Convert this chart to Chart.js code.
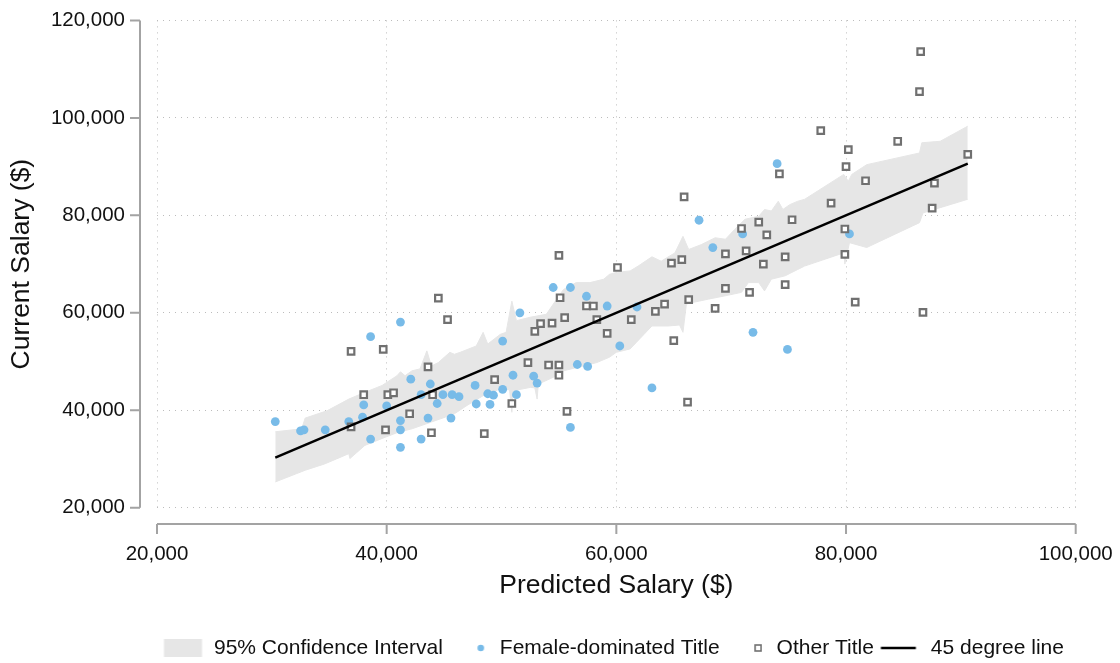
<!DOCTYPE html>
<html><head><meta charset="utf-8">
<script src="https://cdn.jsdelivr.net/npm/chart.js@4.4.1/dist/chart.umd.min.js"></script>
<style>html,body{margin:0;padding:0;background:#fff;} #wrap{width:1120px;height:663px;position:relative;}</style>
</head><body><div id="wrap"><canvas id="c"></canvas></div>
<script>
// ---- data ----
const xTicks = [20000, 40000, 60000, 80000, 100000];
const yTicks = [20000, 40000, 60000, 80000, 100000, 120000];
const legendNames = ['95% Confidence Interval', 'Female-dominated Title', 'Other Title', '45 degree line'];

const femaleX = [30300,32500,32800,34650,36700,37900,38000,38600,38600,40000,41200,41200,41200,41200,42100,43000,43000,43600,43800,44400,44900,45600,45700,46300,47700,47800,48800,49300,49000,50100,50100,51000,51300,51600,52800,53100,54500,56000,56000,56600,57500,57400,59200,60300,61800,63100,67200,68400,71000,71900,74000,74900,80300];
const femaleY = [37700,35800,36000,36000,37700,38600,41100,34100,55100,40900,58100,37900,36000,32400,46400,43200,34100,38400,45400,41400,43200,38400,43200,42800,45100,41300,43400,43100,41200,54200,44300,47200,43200,60000,47000,45600,65200,65200,36500,49400,49000,63400,61400,53200,61200,44600,79000,73400,76200,56000,90600,52500,76200];

const otherX = [36900,39700,44500,45300,43600,49400,38000,40100,40600,44000,42000,36900,39900,43900,48500,55000,60100,64800,65700,69500,55100,57400,58000,55500,53400,52900,54400,58300,59200,61300,63400,64200,66300,68600,69500,65000,52300,54100,55000,55000,50900,55700,66200,65900,74200,77800,80200,80000,81700,78700,75300,72400,70900,73100,79900,71300,74700,72800,79900,74700,71600,80800,86500,86400,84500,90600,87700,87500,86700];
const otherY = [52100,52500,63000,58600,48900,46300,43200,43200,43600,43200,39300,36600,36000,35400,35200,71800,69300,70200,70900,72100,63100,61400,61400,59000,57800,56200,57900,58600,55800,58600,60300,61800,62700,60900,65000,54300,49800,49300,49300,47200,41400,39800,41700,83800,88500,97400,93500,90000,87100,82500,79100,78600,77300,76000,77200,72700,71500,70000,72000,65800,64200,62200,113600,105400,95200,92500,86600,81500,60100];

const ciUpperX = [30300,32600,32900,34800,36700,37800,39600,40900,41200,41600,42200,42900,43500,43900,44500,45500,45900,46400,47800,48400,48800,49900,50400,50900,51300,52500,53900,54800,55400,56500,57700,58900,59400,60000,61200,61900,63100,63900,65100,65800,66300,67400,68600,69500,70300,71200,72400,72900,73500,74100,74500,75100,75800,76400,79800,80200,80500,81800,86400,86600,88200,90600];
const ciUpperY = [35600,36200,38400,39900,42300,43400,45100,47100,47900,47100,48100,48500,52200,49100,49800,51900,51500,51900,53200,56000,53600,55600,56000,62400,58400,59100,59700,62800,64800,66200,66200,66900,67900,68300,68600,69600,71500,70600,72300,75700,73000,74000,75400,75100,77100,79200,79800,81200,80900,82900,81200,82200,82900,83300,88400,87000,88400,90400,92800,94900,95200,98300];
const ciLowerX = [30300,32900,34600,36700,36800,38100,39900,41000,42200,43900,45100,45900,47000,48400,49900,50700,50900,51000,52500,52900,53100,53200,53600,54800,55400,57100,58300,59400,60000,61200,63100,64500,65500,65800,66100,66600,68000,69500,70900,71500,72400,72900,73500,74700,75800,76400,79800,79900,80300,81800,86400,86700,90600];
const ciLowerY = [25300,27700,29000,31100,30100,32800,34500,35500,36200,37600,38600,39300,41000,43000,44400,44200,39600,44000,44700,44600,42300,45200,45800,47100,48100,49100,49800,50900,51900,52600,57300,57300,57500,56000,61800,62100,62800,63500,64200,66200,66200,64500,66900,67600,68900,69600,72300,70000,74400,73400,78500,80500,83300];

const lineX = [30300, 90600];
const lineY = [30300, 90600];

// ---- styles ----
const FONT = "'Liberation Sans', Arial, sans-serif";
const BLUE = '#78bbe8';
const GRAY = 'rgb(112,112,112)';
const BAND = '#e6e6e6';
const AXIS = '#a3a3a3';
const GRID = '#bcbcbc';

const pts = (xs, ys) => xs.map((v, i) => ({x: v, y: ys[i]}));

function icon(w, h, draw) {
  const c = document.createElement('canvas');
  c.width = w; c.height = h;
  draw(c.getContext('2d'));
  return c;
}
const icons = [
  icon(44, 18, g => { g.fillStyle = BAND; g.fillRect(4.5, 0, 38, 18); }),
  icon(36, 10, g => { g.fillStyle = BLUE; g.beginPath(); g.arc(31.5, 5, 3.3, 0, Math.PI * 2); g.fill(); }),
  icon(36, 12, g => { g.fillStyle = '#fff'; g.strokeStyle = GRAY; g.lineWidth = 1.6; g.fillRect(29, 3, 6, 6); g.strokeRect(29, 3, 6, 6); }),
  icon(40, 6, g => { g.strokeStyle = '#000'; g.lineWidth = 2.5; g.beginPath(); g.moveTo(2.5, 3); g.lineTo(37.5, 3); g.stroke(); })
];

const offsetAxes = {
  id: 'offsetAxes',
  afterDraw(chart) {
    const {ctx, chartArea, scales} = chart;
    const xs = scales.x, ys = scales.y;
    ctx.save();
    ctx.strokeStyle = AXIS;
    ctx.lineWidth = 2;
    const ax = chartArea.left - 17;
    ctx.beginPath();
    ctx.moveTo(ax, ys.getPixelForValue(yTicks[yTicks.length - 1]));
    ctx.lineTo(ax, ys.getPixelForValue(yTicks[0]));
    yTicks.forEach(v => { const p = ys.getPixelForValue(v); ctx.moveTo(ax, p); ctx.lineTo(ax - 10, p); });
    const ay = chartArea.bottom + 16.2;
    ctx.moveTo(xs.getPixelForValue(xTicks[0]), ay);
    ctx.lineTo(xs.getPixelForValue(xTicks[xTicks.length - 1]), ay);
    xTicks.forEach(v => { const p = xs.getPixelForValue(v); ctx.moveTo(p, ay); ctx.lineTo(p, ay + 10); });
    ctx.stroke();
    ctx.restore();
  }
};

const fmt = v => Number(v).toLocaleString('en-US');

new Chart(document.getElementById('c'), {
  type: 'scatter',
  data: {
    datasets: [
      {type: 'line', label: 'ciUpper', data: pts(ciUpperX, ciUpperY), fill: '+1', backgroundColor: BAND,
       borderColor: BAND, borderWidth: 1, pointRadius: 0, tension: 0, order: 5},
      {type: 'line', label: 'ciLower', data: pts(ciLowerX, ciLowerY), fill: false,
       borderColor: BAND, borderWidth: 1, pointRadius: 0, tension: 0, order: 5},
      {label: legendNames[1], data: pts(femaleX, femaleY), pointStyle: 'circle', pointRadius: 4.4,
       backgroundColor: BLUE, borderWidth: 0, order: 3},
      {label: legendNames[2], data: pts(otherX, otherY), pointStyle: 'rect', pointRadius: 4.6,
       backgroundColor: '#fff', borderColor: GRAY, borderWidth: 2.2, order: 2},
      {type: 'line', label: legendNames[3], data: pts(lineX, lineY), borderColor: '#000', borderWidth: 2.5,
       pointRadius: 0, fill: false, tension: 0, order: 1}
    ]
  },
  options: {
    responsive: true,
    maintainAspectRatio: false,
    animation: false,
    events: [],
    layout: {padding: {left: 0, right: 44.3, top: 20.4, bottom: -5.5}},
    scales: {
      x: {
        type: 'linear', min: 20000, max: 100000,
        afterFit: s => { s.height = 127.2; s.paddingLeft = 0; s.paddingRight = 0; },
        ticks: {stepSize: 20000, padding: 33.9, color: '#111', font: {family: FONT, size: 20.5}, callback: fmt},
        grid: {color: GRID, lineWidth: 1, drawTicks: false},
        border: {display: false, dash: [1, 5]},
        title: {display: true, text: 'Predicted Salary ($)', color: '#111', font: {family: FONT, size: 26.5}, padding: {top: 0, bottom: 33.4}}
      },
      y: {
        type: 'linear', min: 20000, max: 120000,
        afterFit: s => { s.width = 157; s.paddingTop = 0; s.paddingBottom = 0; },
        ticks: {stepSize: 20000, padding: 32, color: '#111', font: {family: FONT, size: 20.5}, callback: fmt},
        grid: {color: GRID, lineWidth: 1, drawTicks: false},
        border: {display: false, dash: [1, 5]},
        title: {display: true, text: 'Current Salary ($)', color: '#111', font: {family: FONT, size: 26.5}, padding: {top: 5.8, bottom: 0}}
      }
    },
    plugins: {
      tooltip: {enabled: false},
      legend: {
        position: 'bottom', align: 'start', fullSize: false,
        labels: {
          usePointStyle: true, pointStyleWidth: 44, padding: 2.5,
          font: {family: FONT, size: 21}, color: '#111',
          generateLabels: () => legendNames.map((t, i) => ({
            text: t, pointStyle: icons[i], fillStyle: 'rgba(0,0,0,0)', strokeStyle: 'rgba(0,0,0,0)',
            lineWidth: 0, hidden: false, datasetIndex: i, fontColor: '#111'
          }))
        }
      }
    }
  },
  plugins: [offsetAxes]
});
</script></body></html>
